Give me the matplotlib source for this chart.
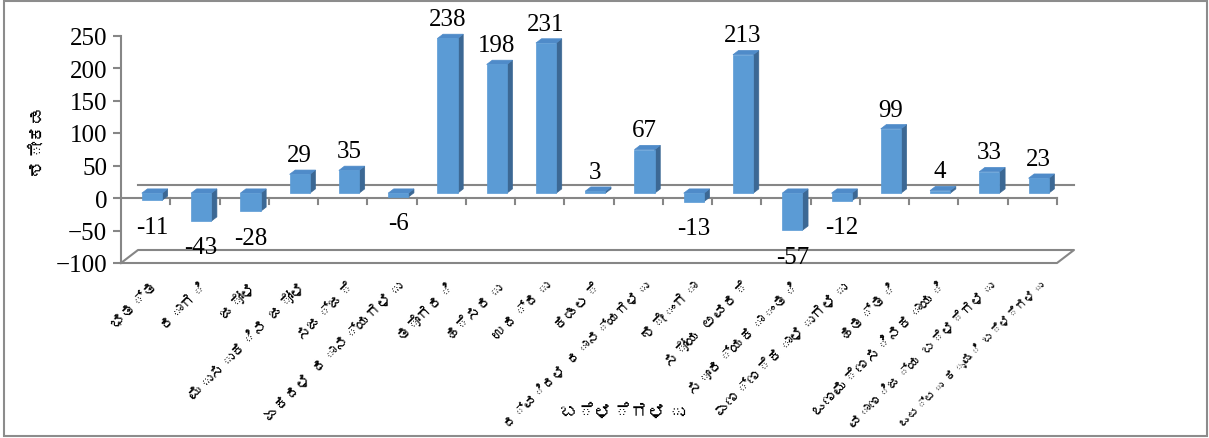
import numpy as np
import matplotlib
matplotlib.use('Agg')
import matplotlib.pyplot as plt
from matplotlib.patches import Polygon, Rectangle
from matplotlib import font_manager as fm
from matplotlib.ft2font import FT2Font

# Crops and percentage change
crops = ['ಭತ್ತ', 'ರಾಗಿ', 'ಜೋಳ', 'ಮುಸುಕಿನ ಜೋಳ', 'ಸಜ್ಜೆ', 'ಏಕದಳ ಧಾನ್ಯಗಳು',
         'ತೊಗರಿ', 'ಹೆಸರು', 'ಉದ್ದು', 'ಕಡಲೆ', 'ದ್ವಿದಳ ಧಾನ್ಯಗಳು', 'ಶೇಂಗಾ',
         'ಸೋಯ ಅವರೆ', 'ಸೂರ್ಯಕಾಂತಿ', 'ಎಣ್ಣೆಕಾಳುಗಳು', 'ಹತ್ತಿ', 'ಒಣಮೆಣಸಿನಕಾಯಿ',
         'ವಾಣಿಜ್ಯ ಬೆಳೆಗಳು', 'ಒಟ್ಟು ಕೃಷಿ ಬೆಳೆಗಳು']
values = [-11, -43, -28, 29, 35, -6, 238, 198, 231, 3, 67, -13, 213, -57, -12, 99, 4, 33, 23]
y_ticks = [-100, -50, 0, 50, 100, 150, 200, 250]
x_title = 'ಬೆಳೆಗಳು'
y_title = 'ಶೇಕಡ'


def find_kannada_font():
    # look for any installed font that has Kannada glyphs
    for path in fm.findSystemFonts():
        try:
            if 0x0C95 in FT2Font(path).get_charmap():
                return path
        except Exception:
            continue
    return None


kn_path = find_kannada_font()


def kn_font(size, weight='normal'):
    if kn_path:
        return fm.FontProperties(fname=kn_path, size=size, weight=weight)
    return fm.FontProperties(family=['DejaVu Sans'], size=size, weight=weight)


num_font = 'Liberation Serif'
grey = '#868686'
front_c = '#5B9BD5'
top_c = '#4F8BC9'
side_c = '#3C6894'

# depth of the floor (in category / value units)
depth_x, depth_y = 0.345, 20.0
f1, f2 = 0.37, 0.70      # bar front/back depth fraction
half_w = 0.205
ymin, ymax = -100, 250
n = len(values)

fig = plt.figure(figsize=(12.09, 4.39), dpi=100)
ax = fig.add_axes([121 / 1209, (439 - 264) / 439, (1074 - 121) / 1209, (264 - 36.5) / 439])
ax.set_xlim(-0.5, n - 0.5 + depth_x)
ax.set_ylim(ymin, ymax)

# floor at -100
x0, x1 = -0.5, n - 0.5
ax.plot([x0, x1, x1 + depth_x, x0 + depth_x, x0], [ymin, ymin, ymin + depth_y, ymin + depth_y, ymin],
        color=grey, lw=1.5, clip_on=False, zorder=1)
# zero lines (back and front) with category ticks
ax.plot([x0 + depth_x, x1 + depth_x], [depth_y, depth_y], color=grey, lw=1.5, clip_on=False, zorder=1)
ax.plot([x0, x1], [0, 0], color=grey, lw=1.5, clip_on=False, zorder=1)
for k in range(1, n + 1):
    ax.plot([x0 + k, x0 + k], [0, -9], color=grey, lw=1.5, clip_on=False, zorder=1)

# 3D-looking bars
for i, v in enumerate(values):
    lo, hi = min(0, v), max(0, v)
    xl = i - half_w + f1 * depth_x
    xr = i + half_w + f1 * depth_x
    dy1 = f1 * depth_y
    ddx = (f2 - f1) * depth_x
    ddy = (f2 - f1) * depth_y
    front = [(xl, lo + dy1), (xr, lo + dy1), (xr, hi + dy1), (xl, hi + dy1)]
    side = [(xr, lo + dy1), (xr + ddx, lo + dy1 + ddy), (xr + ddx, hi + dy1 + ddy), (xr, hi + dy1)]
    top = [(xl, hi + dy1), (xr, hi + dy1), (xr + ddx, hi + dy1 + ddy), (xl + ddx, hi + dy1 + ddy)]
    for pts, c in [(side, side_c), (top, top_c), (front, front_c)]:
        ax.add_patch(Polygon(pts, closed=True, facecolor=c, edgecolor=c, lw=0.5,
                             clip_on=False, zorder=3))
    cx = i + f1 * depth_x
    if v >= 0:
        ax.annotate(str(v), (cx, hi + dy1), xytext=(0, 6), textcoords='offset points',
                    ha='center', va='bottom', fontsize=18, family=num_font, zorder=5)
    else:
        ax.annotate(str(v), (cx, lo + dy1), xytext=(0, -11), textcoords='offset points',
                    ha='center', va='top', fontsize=18, family=num_font, zorder=5)

# category labels
cat_labels = []
for i, name in enumerate(crops):
    t = ax.annotate(name, (i, ymin), xytext=(4, -11), textcoords='offset points',
                    ha='right', va='top', rotation=45, rotation_mode='anchor',
                    fontproperties=kn_font(11), annotation_clip=False)
    cat_labels.append(t)

# y axis
for s in ['top', 'right', 'bottom']:
    ax.spines[s].set_visible(False)
ax.spines['left'].set_color(grey)
ax.spines['left'].set_linewidth(1.5)
ax.set_xticks([])
ax.set_yticks(y_ticks)
ax.tick_params(axis='y', colors=grey, length=6, width=1.5, pad=4)
for lab in ax.get_yticklabels():
    lab.set_family(num_font)
    lab.set_fontsize(18)
    lab.set_color('black')
ax.patch.set_visible(False)

fig.text(623 / 1209, 1 - 412 / 439, x_title, ha='center', va='center',
         fontproperties=kn_font(13, 'bold'))
fig.text(37 / 1209, 1 - 139 / 439, y_title, ha='center', va='center', rotation=90,
         fontproperties=kn_font(13, 'bold'))

# shrink any category label that would run past the bottom of the chart
renderer = fig.canvas.get_renderer()
for t in cat_labels:
    size = t.get_fontsize()
    while t.get_window_extent(renderer).y0 < 8 and size > 6:
        size -= 0.5
        t.set_fontsize(size)

# chart border
fig.add_artist(Rectangle((4 / 1209, 2 / 439), 1203 / 1209, 435 / 439, transform=fig.transFigure,
                         fill=False, edgecolor='#8c8c8c', lw=1.5))

fig.savefig('out.png', dpi=100)
